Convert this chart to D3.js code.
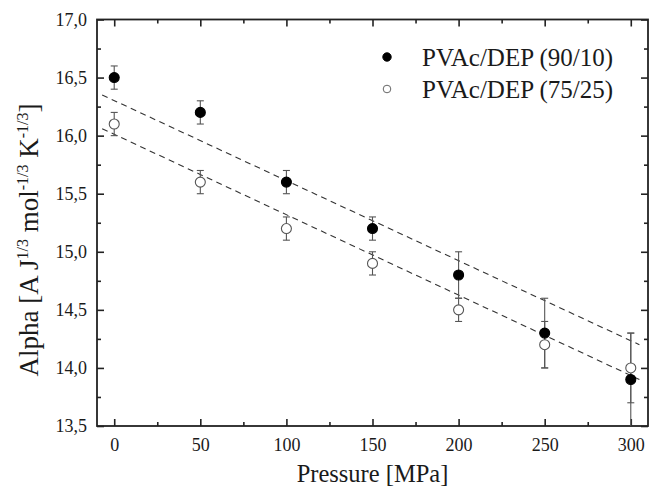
<!DOCTYPE html>
<html lang="en">
<head>
<meta charset="utf-8">
<title>Alpha vs Pressure</title>
<script src="https://d3js.org/d3.v7.min.js"></script>
<style>
  body { margin: 0; background: #fff; }
  .axis path { display: none; }
  .axis line { stroke: #222; stroke-width: 1.6; }
</style>
</head>
<body>
<div id="vis"></div>
<script>
  // data
  const pressure = [0, 50, 100, 150, 200, 250, 300];
  const alpha9010 = [16.5, 16.2, 15.6, 15.2, 14.8, 14.3, 13.9];
  const err9010 = [0.1, 0.1, 0.1, 0.1, 0.2, 0.3, 0.4];
  const alpha7525 = [16.1, 15.6, 15.2, 14.9, 14.5, 14.2, 14.0];
  const err7525 = [0.1, 0.1, 0.1, 0.1, 0.1, 0.2, 0.3];

  // dashed fit lines, end points as drawn
  const fitX = [-7, 305];
  const fit9010 = [16.35, 14.2];
  const fit7525 = [16.06, 13.9];

  const xTicks = [0, 50, 100, 150, 200, 250, 300];
  const xMinor = [25, 75, 125, 175, 225, 275];
  const yTicks = [13.5, 14.0, 14.5, 15.0, 15.5, 16.0, 16.5, 17.0];
  const yMinor = [13.75, 14.25, 14.75, 15.25, 15.75, 16.25, 16.75];
  const legendLabels = ["PVAc/DEP (90/10)", "PVAc/DEP (75/25)"];

  const serif = '"Liberation Serif"';

  const width = 649, height = 487;
  const margin = { top: 19.5, right: 1, bottom: 61, left: 97 };
  const iw = width - margin.left - margin.right;
  const ih = height - margin.top - margin.bottom;

  const svg = d3.select('#vis').append('svg')
    .attr('width', width)
    .attr('height', height);

  const g = svg.append('g').attr('transform', `translate(${margin.left},${margin.top})`);

  const x = d3.scaleLinear().domain([-10, 310]).range([0, iw]);
  const y = d3.scaleLinear().domain([13.5, 17]).range([ih, 0]);

  const fmt = d3.formatLocale({ decimal: ",", thousands: ".", grouping: [3], currency: ["", ""] }).format(".1f");

  function styleAxis(sel) {
    sel.attr('font-size', 18);
    sel.selectAll('text').style('font-family', serif).attr('fill', '#1a1a1a');
  }

  // axes, ticks point inward on all four sides
  g.append('g').attr('class', 'axis')
    .attr('transform', `translate(0,${ih})`)
    .call(d3.axisBottom(x).tickValues(xTicks).tickSizeInner(-7).tickSizeOuter(0).tickPadding(12).tickFormat(d3.format('d')))
    .call(styleAxis);
  g.append('g').attr('class', 'axis')
    .attr('transform', `translate(0,${ih})`)
    .call(d3.axisBottom(x).tickValues(xMinor).tickSizeInner(-4).tickSizeOuter(0).tickFormat(''));
  g.append('g').attr('class', 'axis')
    .call(d3.axisTop(x).tickValues(xTicks).tickSizeInner(-7).tickSizeOuter(0).tickFormat(''));
  g.append('g').attr('class', 'axis')
    .call(d3.axisTop(x).tickValues(xMinor).tickSizeInner(-4).tickSizeOuter(0).tickFormat(''));

  g.append('g').attr('class', 'axis')
    .call(d3.axisLeft(y).tickValues(yTicks).tickSizeInner(-7).tickSizeOuter(0).tickPadding(10).tickFormat(fmt))
    .call(styleAxis);
  g.append('g').attr('class', 'axis')
    .call(d3.axisLeft(y).tickValues(yMinor).tickSizeInner(-4).tickSizeOuter(0).tickFormat(''));
  g.append('g').attr('class', 'axis')
    .attr('transform', `translate(${iw},0)`)
    .call(d3.axisRight(y).tickValues(yTicks).tickSizeInner(-7).tickSizeOuter(0).tickFormat(''));
  g.append('g').attr('class', 'axis')
    .attr('transform', `translate(${iw},0)`)
    .call(d3.axisRight(y).tickValues(yMinor).tickSizeInner(-4).tickSizeOuter(0).tickFormat(''));

  // frame
  g.append('rect')
    .attr('width', iw).attr('height', ih)
    .attr('fill', 'none').attr('stroke', '#222').attr('stroke-width', 1.8);

  // fit lines
  [fit9010, fit7525].forEach(f => {
    g.append('line')
      .attr('x1', x(fitX[0])).attr('y1', y(f[0]))
      .attr('x2', x(fitX[1])).attr('y2', y(f[1]))
      .attr('stroke', '#333').attr('stroke-width', 1.1)
      .attr('stroke-dasharray', '6,4.5');
  });

  const series = [
    { vals: alpha7525, errs: err7525, fill: '#fff', stroke: '#555' },
    { vals: alpha9010, errs: err9010, fill: '#000', stroke: '#000' }
  ];

  // error bars
  series.forEach(s => {
    const eb = g.append('g').attr('stroke', '#555').attr('stroke-width', 1.1);
    pressure.forEach((p, i) => {
      const cx = x(p), lo = y(s.vals[i] - s.errs[i]), hi = y(s.vals[i] + s.errs[i]);
      eb.append('line').attr('x1', cx).attr('x2', cx).attr('y1', lo).attr('y2', hi);
      if (s.vals[i] - s.errs[i] > 13.5) {
        eb.append('line').attr('x1', cx - 3.5).attr('x2', cx + 3.5).attr('y1', lo).attr('y2', lo);
      }
      eb.append('line').attr('x1', cx - 3.5).attr('x2', cx + 3.5).attr('y1', hi).attr('y2', hi);
    });
  });

  // markers
  series.forEach(s => {
    g.append('g').selectAll('circle')
      .data(pressure)
      .join('circle')
      .attr('cx', d => x(d))
      .attr('cy', (d, i) => y(s.vals[i]))
      .attr('r', 5)
      .attr('fill', s.fill)
      .attr('stroke', s.stroke)
      .attr('stroke-width', 1.1);
  });

  // legend
  const legend = svg.append('g').attr('transform', 'translate(387,57)');
  legendLabels.forEach((lab, i) => {
    const row = legend.append('g').attr('transform', `translate(0,${i * 32})`);
    row.append('circle').attr('r', i === 0 ? 4.2 : 3.8)
      .attr('fill', i === 0 ? '#000' : '#fff')
      .attr('stroke', i === 0 ? '#000' : '#666')
      .attr('stroke-width', 1);
    row.append('text')
      .attr('x', 35).attr('y', 8.5)
      .style('font-family', serif)
      .attr('font-size', 25)
      .attr('fill', '#1a1a1a')
      .text(lab);
  });

  // axis titles
  svg.append('text')
    .attr('x', margin.left + iw / 2).attr('y', 482)
    .attr('text-anchor', 'middle')
    .style('font-family', serif)
    .attr('font-size', 24.5)
    .attr('fill', '#1a1a1a')
    .text('Pressure [MPa]');

  const yt = svg.append('text')
    .attr('transform', 'translate(38,240) rotate(-90)')
    .attr('text-anchor', 'middle')
    .style('font-family', serif)
    .attr('font-size', 27)
    .attr('fill', '#1a1a1a');
  const parts = [
    ['Alpha [A J', false], ['1/3', true], [' mol', false], ['-1/3', true],
    [' K', false], ['-1/3', true], [']', false]
  ];
  parts.forEach(([t, sup]) => {
    yt.append('tspan')
      .attr('font-size', sup ? 16 : 27)
      .attr('baseline-shift', sup ? '10' : null)
      .text(t);
  });
</script>
</body>
</html>
